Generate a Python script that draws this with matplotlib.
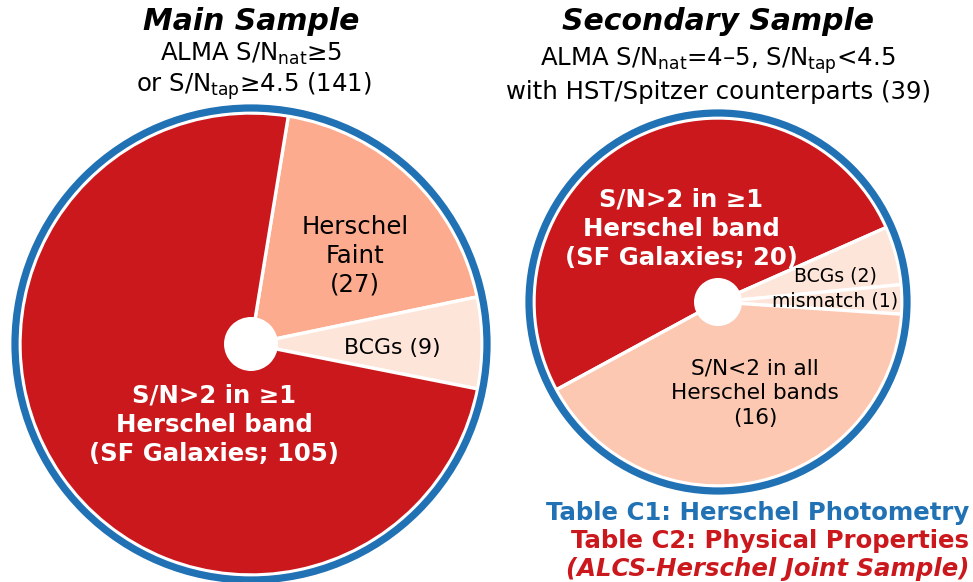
import matplotlib
matplotlib.use("Agg")
import matplotlib.pyplot as plt
from matplotlib.patches import Circle

plt.rcParams['font.family'] = ['DejaVu Sans']
plt.rcParams['mathtext.fontset'] = 'dejavusans'

# ---- data ----
main_labels = ["Herschel\nFaint\n(27)", "BCGs (9)", "S/N>2 in ≥1\nHerschel band\n(SF Galaxies; 105)"]
main_values = [27, 9, 105]
sec_labels = ["S/N>2 in ≥1\nHerschel band\n(SF Galaxies; 20)", "BCGs (2)", "mismatch (1)",
              "S/N<2 in all\nHerschel bands\n(16)"]
sec_values = [20, 2, 1, 16]

DARK = "#cb181d"
SALMON = "#fcab8f"
PALE = "#fee5d9"
LIGHT = "#fcc8b2"
BLUE = "#2171b5"

W, H = 973, 582
fig = plt.figure(figsize=(W / 100, H / 100), dpi=100)
ax = fig.add_axes([0, 0, 1, 1])

def Y(y):
    return H - y

# Left pie
cL = (251, Y(344))
ax.pie(main_values, colors=[SALMON, PALE, DARK], startangle=80.7, counterclock=False,
       center=cL, radius=231, wedgeprops=dict(edgecolor="white", linewidth=2.4))
ax.add_patch(Circle(cL, 236, fill=False, edgecolor=BLUE, linewidth=5.2, zorder=5))
ax.add_patch(Circle(cL, 27, facecolor="white", edgecolor="none", zorder=6))

# Right pie
cR = (718, Y(302))
ax.pie(sec_values, colors=[DARK, PALE, PALE, LIGHT], startangle=208.5, counterclock=False,
       center=cR, radius=184, wedgeprops=dict(edgecolor="white", linewidth=2.4))
ax.add_patch(Circle(cR, 189, fill=False, edgecolor=BLUE, linewidth=5.2, zorder=5))
ax.add_patch(Circle(cR, 24, facecolor="white", edgecolor="none", zorder=6))

ax.set_xlim(0, W)
ax.set_ylim(0, H)
ax.set_aspect("equal")
ax.axis("off")

# Left labels
ax.text(355, Y(256), main_labels[0], ha="center", va="center", fontsize=17.6, color="black",
        linespacing=1.25)
ax.text(392, Y(348), main_labels[1], ha="center", va="center", fontsize=15.8, color="black")
ax.text(214, Y(425), main_labels[2], ha="center", va="center", fontsize=17.6, color="white",
        fontweight="bold", linespacing=1.28)

# Right labels
ax.text(681, Y(229), sec_labels[0], ha="center", va="center", fontsize=17.6, color="white",
        fontweight="bold", linespacing=1.28)
ax.text(835, Y(276), sec_labels[1], ha="center", va="center", fontsize=13.6, color="black")
ax.text(835, Y(301), sec_labels[2], ha="center", va="center", fontsize=13.6, color="black")
ax.text(755, Y(393), sec_labels[3], ha="center", va="center", fontsize=15.6, color="black",
        linespacing=1.3)

# Titles
ax.text(251, Y(21), "Main Sample", ha="center", va="center", fontsize=21.5,
        fontweight="bold", fontstyle="italic")
ax.text(251, Y(54), r"ALMA S/N$_{\rm nat}$≥5", ha="center", va="center", fontsize=17.6)
ax.text(254, Y(86), r"or S/N$_{\rm tap}$≥4.5 (141)", ha="center", va="center", fontsize=17.6)

ax.text(718, Y(21), "Secondary Sample", ha="center", va="center", fontsize=21.5,
        fontweight="bold", fontstyle="italic")
ax.text(718, Y(61), r"ALMA S/N$_{\rm nat}$=4–5, S/N$_{\rm tap}$<4.5", ha="center", va="center", fontsize=17.6)
ax.text(718, Y(92), "with HST/Spitzer counterparts (39)", ha="center", va="center", fontsize=17.6)

# Bottom right notes
ax.text(969, Y(513), "Table C1: Herschel Photometry", ha="right", va="center", fontsize=17.6,
        fontweight="bold", color=BLUE)
ax.text(969, Y(541), "Table C2: Physical Properties", ha="right", va="center", fontsize=17.6,
        fontweight="bold", color=DARK)
ax.text(969, Y(569), "(ALCS-Herschel Joint Sample)", ha="right", va="center", fontsize=17.6,
        fontweight="bold", fontstyle="italic", color=DARK)

fig.savefig("out.png", dpi=100)
